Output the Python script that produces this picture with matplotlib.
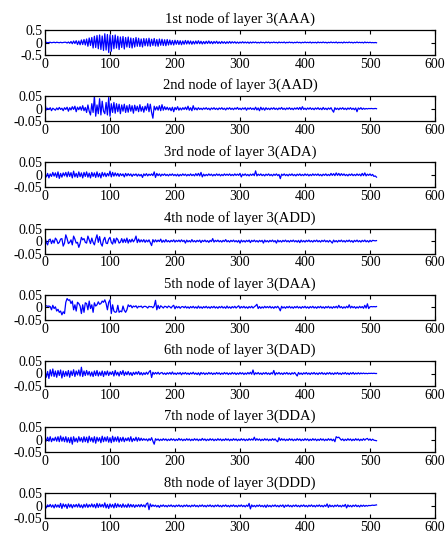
"""Eight wavelet packet nodes of layer 3, stacked like the MATLAB figure"""
import numpy as np
import matplotlib
matplotlib.use("Agg")
import matplotlib.pyplot as plt

plt.rcParams['font.family'] = ['Liberation Serif', 'DejaVu Serif']
plt.rcParams['axes.unicode_minus'] = False

# one value every 2 samples (16 values = 32 samples per row)
SAMPLE_STEP = 2

titles = ["1st node of layer 3(AAA)", "2nd node of layer 3(AAD)",
          "3rd node of layer 3(ADA)", "4th node of layer 3(ADD)",
          "5th node of layer 3(DAA)", "6th node of layer 3(DAD)",
          "7th node of layer 3(DDA)", "8th node of layer 3(DDD)"]

# node 1 in hundredths, the rest in thousandths
aaa = np.array([
    0, 1, -1, 0, 1, -1, 0, 1, -1, 1, 0, -1, 1, -1, 0, 1,
    1, -2, 2, -3, 4, -5, 6, -4, 7, -8, 6, -9, 10, -8, 12, -10,
    14, -15, 18, -12, 20, -22, 25, -20, 28, -25, 30, -28, 26, -32, 35, -30,
    32, -40, 30, -35, 28, -25, 30, -22, 25, -28, 22, -20, 24, -26, 20, -18,
    22, -20, 18, -22, 16, -18, 20, -15, 17, -16, 14, -18, 16, -13, 15, -14,
    17, -15, 13, -12, 16, -14, 12, -15, 14, -11, 13, -12, 11, -13, 12, -10,
    10, -9, 8, -10, 9, -7, 8, -8, 7, -9, 6, -7, 8, -6, 7, -6,
    6, -7, 5, -6, 6, -5, 7, -5, 5, -6, 4, -5, 5, -4, 6, -4,
    4, -5, 4, -3, 5, -4, 3, -4, 4, -3, 3, -4, 3, -3, 4, -3,
    3, -2, 3, -3, 2, -3, 2, -2, 3, -2, 2, -2, 2, -3, 2, -2,
    2, -1, 2, -2, 1, -2, 2, -1, 1, -2, 2, -1, 2, -2, 1, -1,
    2, -1, 1, -2, 2, -1, 1, -1, 2, -2, 1, -1, 2, -1, 1, -2,
    1, -1, 2, -1, 1, -2, 1, -1, 2, -1, 1, -1, 2, -2, 1, -1,
    1, -2, 2, -1, 1, -1, 2, -1, 1, -2, 1, -1, 2, -1, 1, -1,
    2, -2, 1, -1, 1, -2, 2, -1, 1, -1, 2, -1, 1, -2, 1, -1,
    2, -1, 1, -1, 1, -2, 2, -1, 1, -1, 1, -1, 0, -1, 0, -1]) / 100

aad = np.array([
    20, -5, 2, -3, 4, -8, 2, -2, -6, 3, -4, 5, -3, 2, -8, 4,
    -3, 6, -10, 4, -5, 8, -3, 10, -12, 6, -4, 8, -6, 12, -8, 5,
    -15, 15, -10, -25, 20, -15, 50, -30, 15, -20, 40, -25, 30, -10, -20, 25,
    -25, 45, -30, 20, -15, 25, -18, 20, -12, 18, -20, 15, -10, 18, -15, 12,
    -14, 16, -10, 12, -18, 14, -8, 10, -12, 16, -10, 8, -14, 10, -6, 20,
    -12, 18, -15, -38, 10, -5, 8, -6, 12, -8, 16, -6, 8, -4, 6, -5,
    4, -8, 6, -12, 5, -4, 8, -6, 3, -5, 4, -3, 6, -4, 10, -6,
    4, -8, 12, -4, 3, -5, 4, -3, 2, -4, 3, -2, 4, -3, 2, -5,
    3, -2, 4, -3, 2, -4, 3, -2, 4, -3, 2, -5, 3, -2, 4, -3,
    2, -4, 3, -2, 5, -3, 2, -4, 3, -2, 4, -6, 3, -2, 4, -3,
    2, -4, 6, -5, 3, -8, 6, -4, 3, -6, 4, -3, 2, -4, 3, -2,
    4, -3, 2, -4, 3, -2, 5, -3, 2, -4, 3, -2, 4, -3, 2, -4,
    3, -2, 4, -3, 5, -4, 8, -3, 2, -4, 3, -2, 4, -3, 2, -4,
    3, -2, 4, -3, 2, -4, 5, -3, 2, -4, 3, -2, 4, -6, -14, 4,
    -3, 2, -4, 3, -2, 4, -3, 2, -4, 3, -2, 4, -3, 2, -4, 3,
    -12, 3, -2, 4, -3, 2, -2, 1, -1, 1, 0, 1, 0, 0, 1, 0]) / 1000

ada = np.array([
    5, -8, 6, -12, 4, -6, 10, -5, 8, -10, 12, -14, 6, -9, 8, -4,
    10, -8, 12, -6, 9, -12, 15, -8, 6, -10, 12, -7, 8, -12, 10, -6,
    12, -9, 7, -12, 10, -6, 8, -10, 12, -8, 6, -12, 10, -5, 8, -7,
    6, -4, 15, -8, 10, -5, 8, -4, 6, -6, 5, -3, 4, -8, 6, -4,
    5, -3, 4, -6, 3, -2, 4, -5, 3, -4, 2, -10, 4, -3, 5, -4,
    3, -2, 4, -3, 12, -10, 6, -3, 4, -5, 3, -2, 4, -3, 2, -4,
    3, -2, 4, -3, 2, -4, 3, -5, 2, -3, 4, -2, 3, -4, 2, -3,
    4, -3, 2, -4, 5, -3, 6, -4, 10, -8, 3, -4, 2, -3, 4, -2,
    3, -4, 2, -3, 4, -2, 3, -4, 2, -3, 4, -2, 3, -2, 4, -3,
    2, -3, 4, -2, 3, -2, 6, -8, 3, -2, 4, -3, 2, -4, 3, -2,
    4, -3, 16, -4, 3, -2, 4, -3, 2, -4, 3, -2, 4, -3, 2, -4,
    3, -2, 4, -3, 2, -15, 3, -2, 4, -3, 2, -4, 3, -2, 4, -3,
    2, -4, 3, -2, 4, -3, 2, -3, 4, -2, 3, -4, 2, -3, 4, -2,
    3, -2, 4, -3, 2, -4, 3, -2, 4, -3, 2, -3, 6, -2, 5, -3,
    8, -2, 6, -3, 5, -2, 4, -3, 2, -4, 3, -2, 4, -3, 2, -3,
    4, -2, 3, -4, 6, -3, 8, -4, 3, -2, 4, -3, 2, -6, -4, -9]) / 1000

add = np.array([
    15, -5, -15, 5, 8, -10, 4, -8, 12, 5, -10, -5, 8, 10, -20, -8,
    25, 10, -10, -5, 5, -15, 20, 8, -8, -5, -25, -10, 15, 5, 10, -5,
    -8, 20, 5, -10, 12, -5, -15, 8, 25, -5, 18, -10, -20, 5, 15, -8,
    -10, 8, 15, -5, -12, 10, -8, 12, 6, -8, -4, 10, -6, 8, -5, 12,
    -8, 6, -4, 8, -3, 5, 20, -6, 8, -4, 5, -3, 6, -5, 4, -3,
    5, -6, -18, 6, -4, 5, -3, 4, -2, 8, -5, 3, -4, 6, -3, 2,
    -4, 3, -2, 5, -4, 3, -2, 4, -3, 5, -2, 3, -8, 4, -3, 2,
    -4, 6, -3, 2, -4, 3, -2, 4, -6, 3, -2, 4, -3, 2, -5, 3,
    -2, 10, -4, 3, -2, 4, -3, 2, -4, 3, -2, 6, -3, 2, -4, 3,
    -2, 4, -3, 2, -4, 3, -8, 4, -3, 2, -4, 3, -2, 4, -6, 3,
    -2, 4, -3, 2, -4, 3, -2, 3, -8, 4, -3, 2, -4, 3, -2, 4,
    -3, 2, -8, 4, -3, 2, -4, 3, -2, 4, -3, 2, -4, 3, -2, 4,
    -3, 2, -4, 3, -6, 4, -3, 2, -4, 3, -2, 4, -3, 2, -4, 3,
    -2, 4, -3, 2, -4, 3, -2, 4, -3, 2, -4, 3, -2, -8, 4, -3,
    2, -4, 3, -2, 4, -3, 2, -4, 3, -2, 4, -3, 2, -5, 3, -2,
    4, -3, 2, -4, 3, -2, 4, -3, 2, -4, 3, -2, 3, 2, 1, 2]) / 1000

daa = np.array([
    5, 6, 4, 5, 3, -10, 8, -5, 2, -15, -8, -20, -15, -30, -18, -25,
    20, 35, 28, 30, 15, 25, -10, 10, -15, 20, 15, 5, -25, 10, -20, 18,
    15, -10, 25, -5, 10, -20, 18, 5, 10, 22, 12, 15, 25, 20, 30, 15,
    -10, 20, 30, -25, 10, -15, -20, -18, 8, -20, -15, -18, 5, -12, -20, -10,
    10, 3, 8, -2, 5, 2, 6, -3, 4, 2, 5, -2, 3, 4, 2, -3,
    4, 2, 3, -2, 5, 28, -10, 8, -5, 6, 2, -3, 4, 3, -2, 5,
    2, -3, 4, 8, -6, 4, -2, 3, -4, 2, 3, -2, 4, -3, 2, -4,
    3, -2, 4, -3, 2, -4, 5, -3, 2, -4, 3, -2, 4, -3, 2, -4,
    3, -2, 4, -3, 2, -4, 3, -2, 4, -3, 2, -4, 5, -3, 2, -4,
    3, -2, 4, -3, 2, 6, -4, 3, -2, 4, -3, 2, -4, 3, -2, 4,
    -3, 2, 6, 12, -5, 3, -4, 2, -3, 4, -2, 3, -2, 4, -3, 2,
    -4, 3, -2, 4, -3, -14, 4, -3, 2, -4, 3, -2, 4, -3, 2, -4,
    3, -2, 4, -3, 2, -4, 3, -2, 4, -3, 2, -4, 3, -2, 4, -3,
    2, -4, 3, -2, 4, -3, 2, -4, 3, -2, 4, -3, 2, -4, 3, -2,
    4, -3, 8, -2, 3, -4, 2, -3, 4, -2, 10, -3, 4, -2, 3, -4,
    2, -3, 4, -2, 3, -4, 8, -3, 14, -5, 2, 3, 2, 3, 2, 3]) / 1000

dad = np.array([
    12, -15, 8, -20, 15, -10, 18, -12, 10, -15, 12, -8, 14, -18, 10, -12,
    8, -10, 12, -15, 10, -8, 15, -12, 10, -6, 14, -10, 25, -12, 10, -8,
    12, -6, 8, -10, 6, -12, 10, -8, 12, -10, 6, -8, 10, -12, 8, -6,
    10, -8, 6, -4, 8, -10, 12, -6, 5, -10, 8, -4, 12, -8, 6, -5,
    8, -6, 4, -8, 5, -4, 6, -3, 8, -5, 4, -6, 3, -4, 5, -3,
    6, 12, -16, 5, -3, 4, -2, 5, -3, 2, 4, -3, 2, -4, 3, -2,
    4, -3, 6, -3, 2, -4, 3, -2, 4, -5, 3, -2, 4, -3, 2, -4,
    3, -2, 5, -3, 2, -4, 3, -6, 4, -2, 3, -4, 2, -3, 4, -2,
    3, -4, 2, -3, 4, -2, 3, -4, 2, -3, 4, -2, 3, -4, 2, -3,
    4, -2, 3, -4, 2, -3, 4, -2, 3, -4, 2, -3, 4, -2, 5, -3,
    14, -5, 3, -2, 4, -3, 2, -4, 3, -2, 4, -3, 2, -4, 3, -2,
    12, -6, 3, -2, 4, -3, 2, -4, 3, -2, 4, -3, 2, -4, 3, -2,
    4, -3, -10, 4, -3, 2, -4, 3, -2, 4, -3, 2, -4, 3, -2, 4,
    -3, 2, -4, 3, -2, 4, -3, 2, -4, 3, -2, 4, -3, 2, -4, 3,
    -2, 4, -3, 2, -4, 3, -2, 4, -3, 2, -4, 3, -2, 4, -3, 2,
    -2, 3, -2, 2, -1, 2, -1, 1, -1, 1, 0, 1, 0, 1, 0, 0]) / 1000

dda = np.array([
    8, -5, 10, -6, 12, -8, 6, -4, 10, -6, 12, -8, 15, -6, 10, -8,
    12, -10, 8, -12, 10, -18, 12, -8, 6, -10, 12, -6, 8, -10, 12, -8,
    10, -12, 14, -6, 8, -10, 12, -14, 10, -6, 8, -12, 14, -8, 10, -6,
    12, -10, 8, -12, 14, -8, 10, -6, 12, -10, 8, -6, 10, -8, 6, -4,
    8, -6, 12, -8, 5, -4, 10, -6, 8, -4, 6, -3, 4, -2, 3, -5,
    4, -3, 8, -6, -18, 4, -2, 3, -4, 2, -3, 4, -2, 3, -4, 2,
    -3, 4, -2, 3, -4, 2, -3, 5, -2, 3, -4, 2, -3, 4, -2, 3,
    -4, 2, -3, 4, -2, 3, -4, 2, -3, 5, -2, 3, -4, 2, -3, 4,
    -2, 3, -4, 2, -3, 4, -2, 3, -4, 2, -3, 4, -2, 3, -4, 2,
    -3, 4, -2, 3, -4, 2, -3, 4, -2, 3, -4, 2, -3, 4, -2, 3,
    -2, 10, -3, 4, -2, 3, -4, 2, -3, 4, -2, 3, -4, 2, -3, 4,
    -2, 3, -4, -8, 8, -3, 4, -2, 3, -4, 2, -3, 4, -2, 3, -4,
    2, -3, 4, -2, 3, -4, 2, -3, 4, -2, 3, -4, 2, -3, 4, -2,
    3, -4, 2, -3, 4, -2, 3, -4, 2, -3, 4, -2, 3, -4, 2, -8,
    12, 8, 10, 4, -2, 3, -4, 2, -3, 4, -2, 3, -4, 2, -3, 4,
    -2, 3, -4, 2, -3, 4, -2, 3, 5, -2, 3, -3, 2, -2, -3, -4]) / 1000

ddd = np.array([
    5, -8, 4, -3, 6, -5, 4, -8, 6, -5, 4, -6, 10, -10, 8, -4,
    6, -10, 8, -5, 6, -8, 5, -4, 6, -5, 8, -6, 4, -8, 6, -5,
    8, -6, 5, -4, 8, -5, 6, -8, 10, -6, 8, -4, 6, -5, 12, -8,
    6, -10, 8, -5, 6, -8, 10, -6, 8, -4, 5, -6, 8, -5, 4, -6,
    8, -5, 6, -4, 5, -6, 4, -3, 5, -4, 6, -3, 4, -5, 8, 12,
    -15, 8, -3, 4, -2, 3, -4, 2, -6, 3, -2, 4, -3, 2, -4, 3,
    -2, 4, -3, 2, -4, 3, -2, 4, -3, 2, -4, 3, -2, 4, -3, 2,
    -4, 3, -2, 4, -3, 2, -4, 3, -2, 4, -3, 2, -4, 3, -2, 4,
    -3, 2, -4, 3, -2, 4, -3, 2, -4, 3, -2, 4, -3, 2, -4, 3,
    -2, 4, -3, 2, -4, 3, -2, 4, -3, 2, -4, 3, -2, 10, -12, 4,
    -3, 2, -4, 3, -2, 4, -3, 2, -4, 3, -6, 4, -3, 2, -4, 3,
    -2, 4, -3, 2, -4, 3, -2, 4, -6, 3, -2, 4, -3, 2, -4, 3,
    -2, 4, -3, 2, -4, 3, -2, 4, -3, 2, -4, 3, -2, 4, -3, 2,
    -4, 3, -2, 4, -3, 2, -4, 3, -2, 8, -6, 4, -3, 2, -4, 3,
    -2, 4, -3, 2, -4, 3, -2, 6, -8, 4, -3, 2, -4, 3, -2, 4,
    -3, 2, -4, 3, -2, 3, -2, 2, -1, 2, 1, 2, 3, 2, 3, 4]) / 1000

nodes = [aaa, aad, ada, add, daa, dad, dda, ddd]
y_limits = [0.5, 0.05, 0.05, 0.05, 0.05, 0.05, 0.05, 0.05]
y_ticks = [[-0.5, 0, 0.5]] + [[-0.05, 0, 0.05]] * 7
y_ticklabels = [["-0.5", "0", "0.5"]] + [["-0.05", "0", "0.05"]] * 7
x_ticks = [0, 100, 200, 300, 400, 500, 600]

W, H = 447, 544
fig = plt.figure(figsize=(W / 100, H / 100), dpi=100)

for i, values in enumerate(nodes):
    top = 30 + 66.2 * i
    ax = fig.add_axes([45 / W, 1 - (top + 25) / H, 390 / W, 25 / H])
    samples = np.arange(len(values)) * SAMPLE_STEP
    ax.plot(samples, values, color='#0000ff', linewidth=0.9)
    ax.set_xlim(0, 600)
    ax.set_ylim(-y_limits[i], y_limits[i])
    ax.set_xticks(x_ticks)
    ax.set_yticks(y_ticks[i])
    ax.set_yticklabels(y_ticklabels[i])
    ax.tick_params(direction='in', length=3, width=0.8, labelsize=10,
                   top=True, right=True, pad=2)
    for spine in ax.spines.values():
        spine.set_linewidth(0.9)
    ax.set_title(titles[i], fontsize=10.5, pad=5)

fig.savefig('out.png', dpi=100)
